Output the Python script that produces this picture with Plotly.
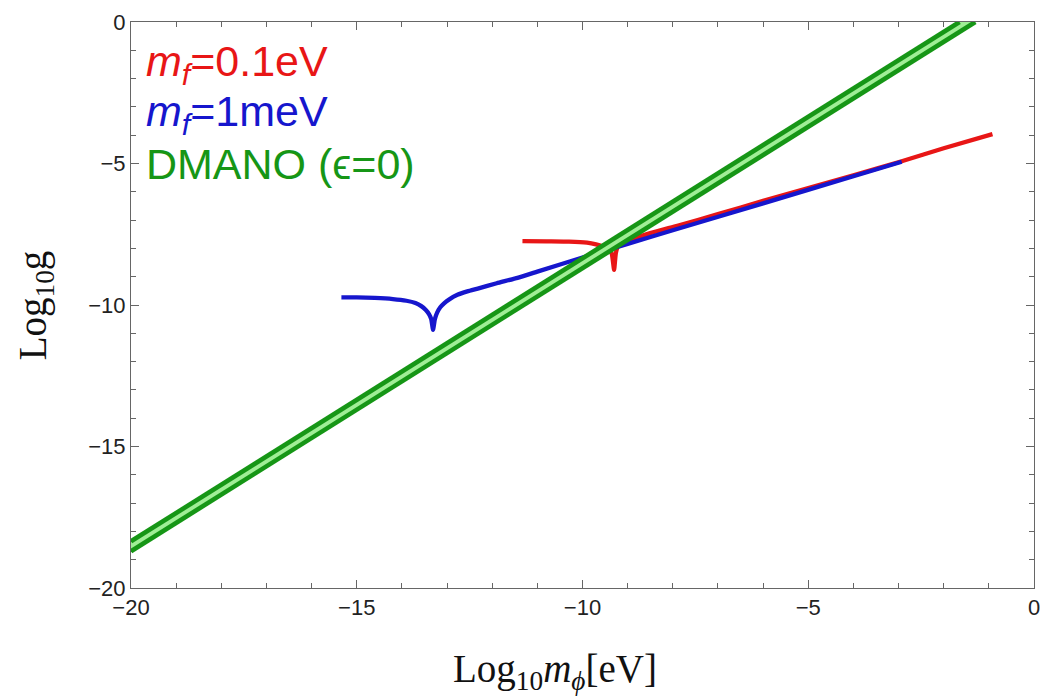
import plotly.graph_objects as go

# DMANO band edges (Log10 g vs Log10 m_phi), straight lines of unit slope
dmano_x = [-20.0, -1.65]
dmano_upper = [-18.35, 0.0]
dmano_x_low = [-20.0, -1.30]
dmano_lower = [-18.70, 0.0]

# m_f = 0.1 eV curve
red_x = [-11.33, -10.8, -10.3, -9.9, -9.7, -9.55, -9.42, -9.35, -9.3, -9.26, -9.2,
         -9.0, -8.5, -7.9, -7.0, -6.0, -4.0, -2.93, -2.0, -0.92]
red_g = [-7.74, -7.75, -7.76, -7.80, -7.86, -7.93, -8.02, -8.20, -8.76, -8.15, -7.90,
         -7.74, -7.46, -7.20, -6.79, -6.32, -5.42, -4.92, -4.46, -3.96]

# m_f = 1 meV curve
blue_x = [-15.34, -15.0, -14.6, -14.2, -13.9, -13.7, -13.57, -13.47, -13.40, -13.35,
          -13.31, -13.27, -13.22, -13.15, -13.06, -12.95, -12.77, -12.55, -12.32,
          -11.9, -11.44, -11.0, -10.0, -9.0, -8.0, -6.0, -4.0, -2.93]
blue_g = [-9.73, -9.73, -9.75, -9.79, -9.85, -9.93, -10.04, -10.18, -10.32, -10.50,
          -10.88, -10.50, -10.27, -10.08, -9.93, -9.80, -9.64, -9.52, -9.42,
          -9.23, -9.04, -8.82, -8.32, -7.84, -7.36, -6.41, -5.45, -4.94]

x_ticks = [-20, -15, -10, -5, 0]
y_ticks = [-20, -15, -10, -5, 0]

RED = "rgb(232,22,22)"
BLUE = "rgb(22,22,205)"
GREEN = "rgb(22,150,22)"
LIGHT_GREEN = "rgb(160,238,150)"

fig = go.Figure()

fig.add_trace(go.Scatter(x=red_x, y=red_g, mode="lines",
                         line=dict(color=RED, width=4.3, shape="spline", smoothing=0.4),
                         showlegend=False))
fig.add_trace(go.Scatter(x=blue_x, y=blue_g, mode="lines",
                         line=dict(color=BLUE, width=4.3, shape="spline", smoothing=0.4),
                         showlegend=False))
# light green fill between the two band edges
fig.add_trace(go.Scatter(x=dmano_x + dmano_x_low[::-1],
                         y=dmano_upper + dmano_lower[::-1],
                         mode="lines", fill="toself", fillcolor=LIGHT_GREEN,
                         line=dict(width=0), showlegend=False))
fig.add_trace(go.Scatter(x=dmano_x, y=dmano_upper, mode="lines",
                         line=dict(color=GREEN, width=4.6), showlegend=False))
fig.add_trace(go.Scatter(x=dmano_x_low, y=dmano_lower, mode="lines",
                         line=dict(color=GREEN, width=4.6), showlegend=False))

axis_common = dict(
    showgrid=False, zeroline=False, showline=True, linecolor="#666", linewidth=1,
    mirror="ticks", ticks="inside", ticklen=8, tickcolor="#666", tickwidth=1,
    tickfont=dict(family="Liberation Sans, Arial", size=22, color="#222"),
    minor=dict(ticks="inside", ticklen=5, tickcolor="#666", dtick=1, showgrid=False),
)

fig.update_xaxes(range=[-20, 0], tickvals=x_ticks,
                 ticktext=[("\u2212" + str(-v)) if v < 0 else str(v) for v in x_ticks],
                 **axis_common)
fig.update_yaxes(range=[-20, 0], tickvals=y_ticks,
                 ticktext=[("\u2212" + str(-v)) if v < 0 else str(v) for v in y_ticks],
                 **axis_common)

legend_font = dict(family="Liberation Sans, Arial", size=43)
annotations = [
    dict(text="<i>m<sub>f</sub></i>=0.1eV", x=0.014, y=0.925, color=RED),
    dict(text="<i>m<sub>f</sub></i>=1meV", x=0.014, y=0.837, color=BLUE),
    dict(text="DMANO (\u03f5=0)", x=0.014, y=0.749, color=GREEN),
]
for a in annotations:
    fig.add_annotation(text=a["text"], x=a["x"], y=a["y"], xref="paper", yref="paper",
                       xanchor="left", yanchor="middle", showarrow=False,
                       font=dict(color=a["color"], **legend_font))

title_font = dict(family="Liberation Serif, Times New Roman", size=39, color="#111")
fig.add_annotation(text="Log<sub>10</sub><i>m<sub>\u03d5</sub></i>[eV]",
                   x=0.47, y=-0.148, xref="paper", yref="paper",
                   xanchor="center", yanchor="middle", showarrow=False, font=title_font)
fig.add_annotation(text="Log<sub>10</sub>g", x=-0.106, y=0.5, xref="paper", yref="paper",
                   xanchor="center", yanchor="middle", showarrow=False, textangle=-90,
                   font=title_font)

fig.update_layout(
    width=1047, height=698,
    margin=dict(l=131, r=7, t=22, b=110),
    paper_bgcolor="white", plot_bgcolor="white",
)

fig.write_html("out.html")
